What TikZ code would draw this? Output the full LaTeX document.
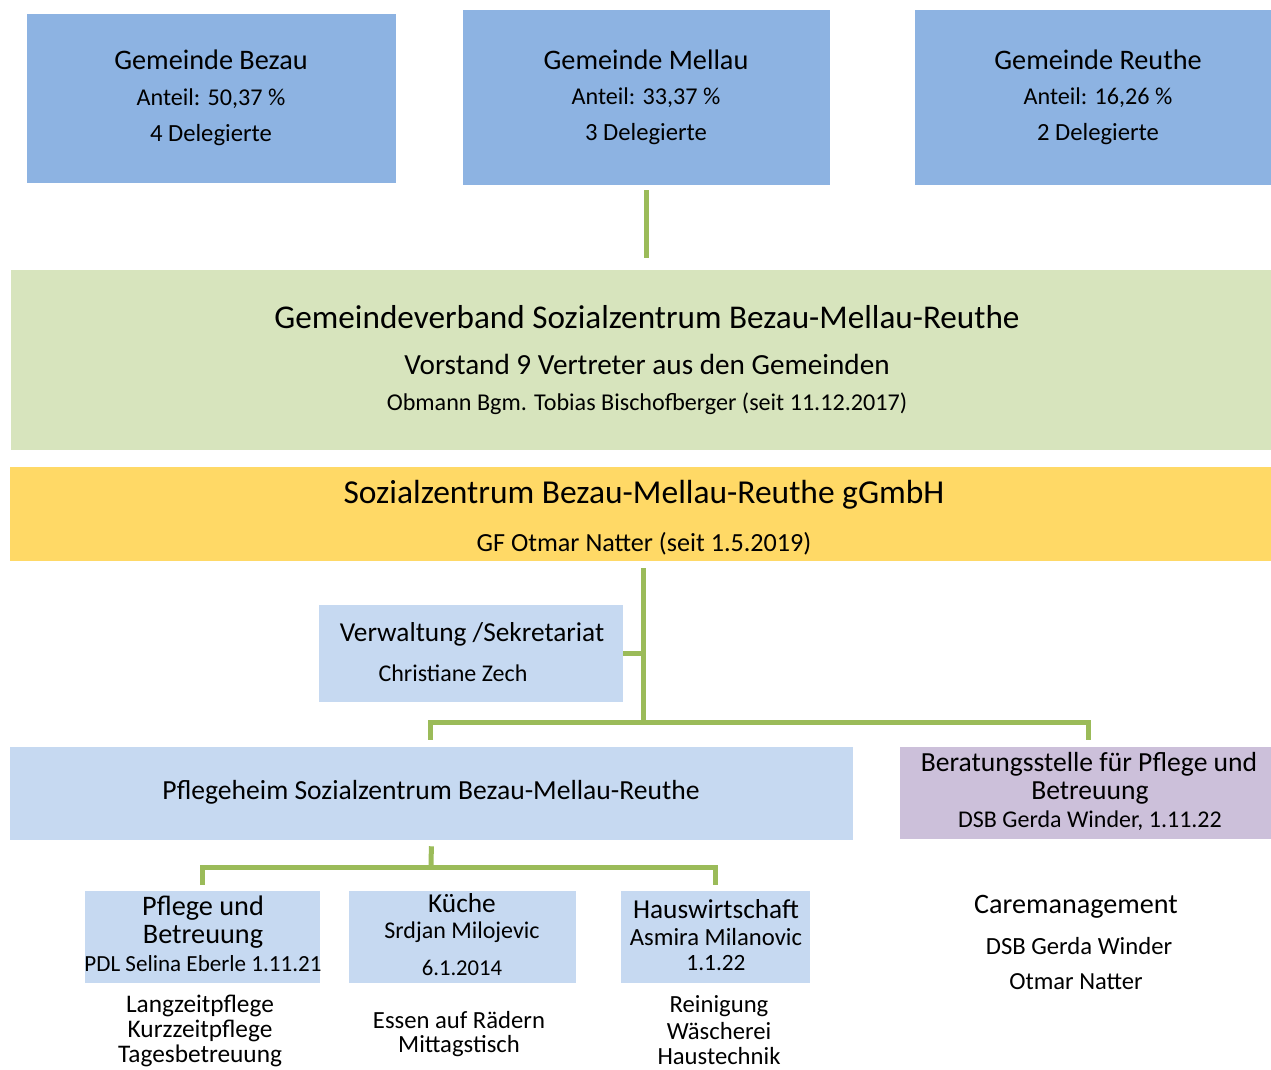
\documentclass[tikz,border=0pt]{standalone}
\usepackage{fontspec}
\setmainfont{Carlito}
\usetikzlibrary{fit}
\definecolor{gemeindeblau}{HTML}{8DB3E2}
\definecolor{hellblau}{HTML}{C6D9F1}
\definecolor{verbandgruen}{HTML}{D7E4BD}
\definecolor{gmbhgelb}{HTML}{FFD966}
\definecolor{beratunglila}{HTML}{CCC0DA}
\definecolor{liniengruen}{HTML}{9BBB59}

\begin{document}
\begin{tikzpicture}[x=0.75pt,y=-0.75pt,
    kasten/.style={rectangle,inner sep=0pt,draw=none},
    zeile/.style={inner sep=0pt,font=\fontsize{#1}{#1}\selectfont},
    linie/.style={draw=liniengruen,line width=3.75pt}]
	\useasboundingbox (0,0) rectangle (1271,1070);
	% Gemeinden
	\node[kasten,fill=gemeindeblau,fit={(27,14) (396,183)}] (bezau) {};
	\node[kasten,fill=gemeindeblau,fit={(463,10) (830,185)}] (mellau) {};
	\node[kasten,fill=gemeindeblau,fit={(915,10) (1271,185)}] (reuthe) {};
	\node[zeile=21.2] (bezau-1) at (211,60) {Gemeinde Bezau};
	\node[zeile=18.1] (bezau-2) at (211,99) {Anteil: 50,37 \%};
	\node[zeile=18.5] (bezau-3) at (211,135) {4 Delegierte};
	\node[zeile=21.2] (mellau-1) at (646,60) {Gemeinde Mellau};
	\node[zeile=18.1] (mellau-2) at (646,98) {Anteil: 33,37 \%};
	\node[zeile=18.5] (mellau-3) at (646,134) {3 Delegierte};
	\node[zeile=21.2] (reuthe-1) at (1098,60) {Gemeinde Reuthe};
	\node[zeile=18.1] (reuthe-2) at (1098,98) {Anteil: 16,26 \%};
	\node[zeile=18.5] (reuthe-3) at (1098,134) {2 Delegierte};
	% Gemeindeverband
	\node[kasten,fill=verbandgruen,fit={(11,270) (1271,450)}] (verband) {};
	\node[zeile=24.9] (verband-1) at (647,317) {Gemeindeverband Sozialzentrum Bezau-Mellau-Reuthe};
	\node[zeile=21.9] (verband-2) at (647,364) {Vorstand 9 Vertreter aus den Gemeinden};
	\node[zeile=18.1] (verband-3) at (647,404) {Obmann Bgm. Tobias Bischofberger (seit 11.12.2017)};
	% gGmbH
	\node[kasten,fill=gmbhgelb,fit={(10,467) (1271,561)}] (gmbh) {};
	\node[zeile=25.1] (gmbh-1) at (644,495) {Sozialzentrum Bezau-Mellau-Reuthe gGmbH};
	\node[zeile=19.6] (gmbh-2) at (644,544) {GF Otmar Natter (seit 1.5.2019)};
	% Verwaltung
	\node[kasten,fill=hellblau,fit={(319,605) (623,702)}] (verwaltung) {};
	\node[zeile=20.5] (verwaltung-1) at (472,634) {Verwaltung /Sekretariat};
	\node[zeile=18] (verwaltung-2) at (453,673) {Christiane Zech};
	% Pflegeheim und Beratungsstelle
	\node[kasten,fill=hellblau,fit={(10,747) (853,840)}] (pflegeheim) {};
	\node[zeile=20.7] (pflegeheim-1) at (431,792) {Pflegeheim Sozialzentrum Bezau-Mellau-Reuthe};
	\node[kasten,fill=beratunglila,fit={(900,747) (1271,839)}] (beratung) {};
	\node[zeile=20.7] (beratung-1) at (1089,764) {Beratungsstelle für Pflege und};
	\node[zeile=20.7] (beratung-2) at (1090,793) {Betreuung};
	\node[zeile=18] (beratung-3) at (1090,821) {DSB Gerda Winder, 1.11.22};
	% Bereiche
	\node[kasten,fill=hellblau,fit={(85,891) (320,983)}] (pflege) {};
	\node[zeile=21.2] (pflege-1) at (203,908) {Pflege und};
	\node[zeile=21.2] (pflege-2) at (203,937) {Betreuung};
	\node[zeile=17.3] (pflege-3) at (203,964) {PDL Selina Eberle 1.11.21};
	\node[kasten,fill=hellblau,fit={(349,891) (576,983)}] (kueche) {};
	\node[zeile=20.5] (kueche-1) at (462,903) {Küche};
	\node[zeile=18] (kueche-2) at (462,932) {Srdjan Milojevic};
	\node[zeile=17] (kueche-3) at (462,968) {6.1.2014};
	\node[kasten,fill=hellblau,fit={(621,891) (810,983)}] (hausw) {};
	\node[zeile=20.5] (hausw-1) at (716,909) {Hauswirtschaft};
	\node[zeile=18.5] (hausw-2) at (716,937) {Asmira Milanovic};
	\node[zeile=17.5] (hausw-3) at (716,963) {1.1.22};
	% Aufgaben
	\node[zeile=19] (aufgabe-1) at (200,1006) {Langzeitpflege};
	\node[zeile=19] (aufgabe-2) at (200,1031) {Kurzzeitpflege};
	\node[zeile=19] (aufgabe-3) at (200,1056) {Tagesbetreuung};
	\node[zeile=18.5] (aufgabe-4) at (459,1020) {Essen auf Rädern};
	\node[zeile=18.5] (aufgabe-5) at (459,1046) {Mittagstisch};
	\node[zeile=18.5] (aufgabe-6) at (719,1006) {Reinigung};
	\node[zeile=18.5] (aufgabe-7) at (719,1031) {Wäscherei};
	\node[zeile=18.5] (aufgabe-8) at (719,1056) {Haustechnik};
	\node[zeile=21.1] (care-1) at (1076,907) {Caremanagement};
	\node[zeile=18.5] (care-2) at (1079,946) {DSB Gerda Winder};
	\node[zeile=18.4] (care-3) at (1076,982) {Otmar Natter};
	% Linien
	\coordinate (gmbhfuss) at (643,568);
	\coordinate (abzweig) at (643,722);
	\coordinate (verteiler) at (431,867);
	\draw[linie,shorten <=3.75pt,shorten >=9pt] (mellau.south) -- (mellau.south |- verband.north);
	\draw[linie] (gmbhfuss) -- (abzweig);
	\draw[linie] (verwaltung.east) -- (verwaltung.east -| abzweig);
	\draw[linie,shorten <=5.25pt,shorten >=5.25pt] ([xshift=-0.4pt]pflegeheim.north) |- (abzweig) -| ([xshift=2.6pt]beratung.north);
	\draw[linie,shorten <=4.5pt] (pflegeheim.south) -- (verteiler);
	\draw[linie,shorten <=4.5pt,shorten >=4.5pt] (pflege.north) |- (verteiler) -| (hausw.north);
\end{tikzpicture}
\end{document}
